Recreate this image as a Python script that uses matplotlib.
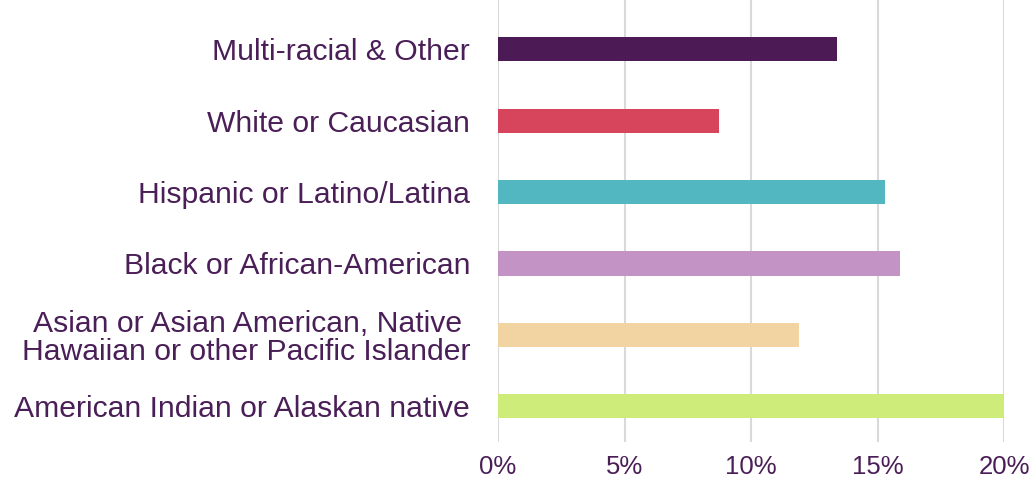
import matplotlib
matplotlib.use("Agg")
import matplotlib.pyplot as plt
from matplotlib.ticker import FuncFormatter

categories = [
    "American Indian or Alaskan native",
    "Asian or Asian American, Native \nHawaiian or other Pacific Islander",
    "Black or African-American",
    "Hispanic or Latino/Latina",
    "White or Caucasian",
    "Multi-racial & Other",
]
values = [20.0, 11.9, 15.9, 15.3, 8.75, 13.4]
colors = ["#CDEC7A", "#F2D3A2", "#C393C5", "#53B7C1", "#D7455D", "#4C1B56"]
xticks = [0, 5, 10, 15, 20]

text_color = "#4A1F57"
plt.rcParams['font.family'] = ['Liberation Sans', 'DejaVu Sans']

fig = plt.figure(figsize=(10.33, 4.84), dpi=100)
ax = fig.add_axes([498/1033, 1 - 442/484, (1004-498)/1033, 442/484])

ax.barh(range(len(categories)), values, height=0.34, color=colors, zorder=3)
ax.set_xlim(0, 20)
ax.set_ylim(-0.5, 5.69)
ax.set_xticks(xticks)
ax.xaxis.set_major_formatter(FuncFormatter(lambda v, p: f"{v:.0f}%"))
ax.set_yticks(range(len(categories)))
ax.set_yticklabels(categories)
ax.grid(axis='x', color='#D9D9D9', linewidth=1.5, zorder=0)
for s in ax.spines.values():
    s.set_visible(False)
ax.tick_params(axis='both', length=0, colors=text_color)
ax.tick_params(axis='x', pad=9, labelsize=18.5)
ax.tick_params(axis='y', pad=20, labelsize=21.7)
for lbl in ax.get_yticklabels():
    lbl.set_linespacing(1.0)

fig.savefig("out.png", dpi=100)
